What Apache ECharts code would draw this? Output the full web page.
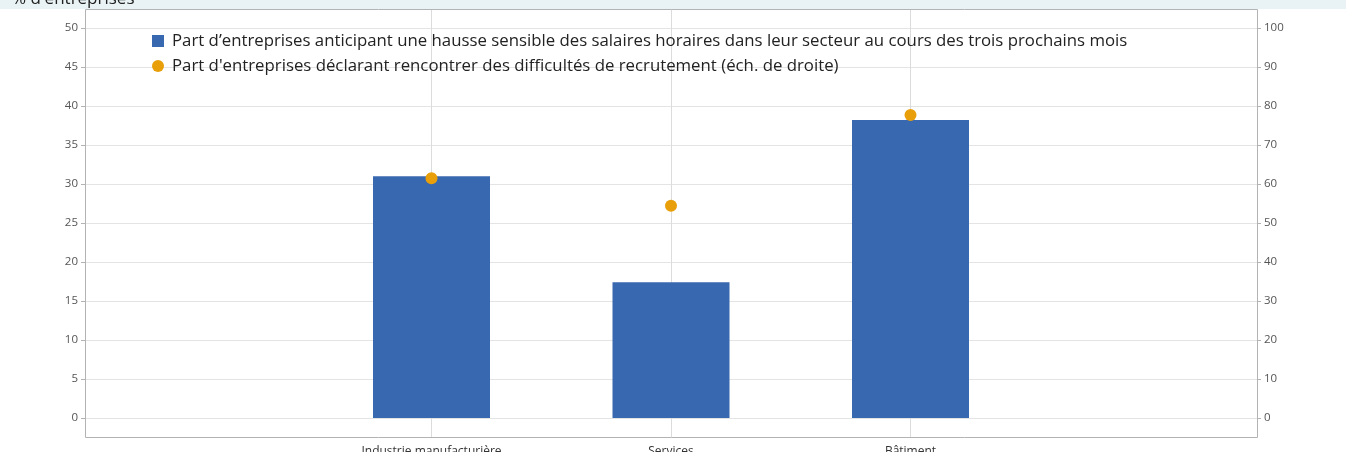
<!DOCTYPE html>
<html>
<head>
<meta charset="utf-8">
<script src="https://cdn.jsdelivr.net/npm/echarts@6/dist/echarts.min.js"></script>
<style>
  html, body { margin: 0; padding: 0; background: #fff; }
  #chart { width: 1346px; height: 452px; }
</style>
</head>
<body>
<div id="chart"></div>
<script>
// data
var categories = ["Industrie manufacturière", "Services", "Bâtiment"];
var hausseSalaires = [31.0, 17.4, 38.2];      // bars, left scale (%)
var difficultesRecrut = [61.5, 54.4, 77.7];   // dots, right scale (%)
var barName = "Part d\u2019entreprises anticipant une hausse sensible des salaires horaires dans leur secteur au cours des trois prochains mois";
var dotName = "Part d'entreprises déclarant rencontrer des difficultés de recrutement (éch. de droite)";

// layout (pixels)
var boxLeft = 85, boxRight = 1257, boxTop = 9, boxBottom = 437;
var valTop = 28, valBottom = 418;
var pxPerUnit = (valBottom - valTop) / 50;
var padTop = (valTop - boxTop) / pxPerUnit;
var padBottom = (boxBottom - valBottom) / pxPerUnit;
var font = "'Open Sans', sans-serif";

var chart = echarts.init(document.getElementById("chart"));

chart.setOption({
  animation: false,
  textStyle: { fontFamily: font },
  graphic: [
    {
      type: "rect",
      shape: { x: 0, y: 0, width: 1346, height: boxTop },
      style: { fill: "#e9f3f5" },
      z: 0
    },
    {
      type: "text",
      style: { text: "% d'entreprises", x: 12, y: -1, font: "17px " + font, fill: "#222", verticalAlign: "middle" },
      z: 1
    },
    {
      type: "rect",
      shape: { x: boxLeft + 0.5, y: boxTop + 0.5, width: boxRight - boxLeft, height: boxBottom - boxTop },
      style: { fill: null, stroke: "#b3b3b3", lineWidth: 1 },
      z: 1
    }
  ],
  legend: {
    left: 147,
    top: 26,
    orient: "vertical",
    itemWidth: 12,
    itemHeight: 12,
    itemGap: 5,
    textStyle: { fontSize: 16.8, lineHeight: 20, color: "#222", fontFamily: font, padding: [0, 0, 0, 3] },
    data: [
      { name: barName, icon: "rect" },
      { name: dotName, icon: "circle" }
    ]
  },
  grid: [
    { left: boxLeft, right: 1346 - boxRight, top: valTop, bottom: 452 - valBottom, outerBoundsMode: "none" },
    // category centres sit on the grid edges (boundaryGap false)
    { left: 431.5, right: 1346 - 910.5, top: boxTop, bottom: 452 - boxBottom, outerBoundsMode: "none" }
  ],
  xAxis: [
    { gridIndex: 0, type: "value", show: false, min: 0, max: 1 },
    {
      gridIndex: 1,
      type: "category",
      boundaryGap: false,
      data: categories,
      axisLine: { show: false },
      axisTick: { show: false },
      axisLabel: { color: "#333", fontSize: 12, margin: 9 },
      splitLine: { show: true, lineStyle: { color: "#dcdcdc", width: 1 } }
    }
  ],
  yAxis: [
    {
      gridIndex: 0, type: "value", position: "left", min: 0, max: 50, interval: 5,
      axisLine: { show: false },
      axisTick: { show: true, length: 4, lineStyle: { color: "#b3b3b3" } },
      axisLabel: { color: "#555", fontSize: 11.5, margin: 7 },
      splitLine: { show: true, lineStyle: { color: "#e4e4e4", width: 1 } }
    },
    {
      gridIndex: 0, type: "value", position: "right", min: 0, max: 100, interval: 10,
      axisLine: { show: false },
      axisTick: { show: true, length: 4, lineStyle: { color: "#b3b3b3" } },
      axisLabel: { color: "#555", fontSize: 11.5, margin: 7 },
      splitLine: { show: false }
    },
    { gridIndex: 1, type: "value", show: false, min: -padBottom, max: 50 + padTop },
    { gridIndex: 1, type: "value", show: false, min: -2 * padBottom, max: 100 + 2 * padTop }
  ],
  series: [
    {
      name: barName,
      type: "bar",
      xAxisIndex: 1,
      yAxisIndex: 2,
      barWidth: 117,
      itemStyle: { color: "#3868b0" },
      data: hausseSalaires
    },
    {
      name: dotName,
      type: "scatter",
      xAxisIndex: 1,
      yAxisIndex: 3,
      symbol: "circle",
      symbolSize: 12,
      itemStyle: { color: "#e99f0a", opacity: 1 },
      data: difficultesRecrut
    }
  ]
});
</script>
</body>
</html>
